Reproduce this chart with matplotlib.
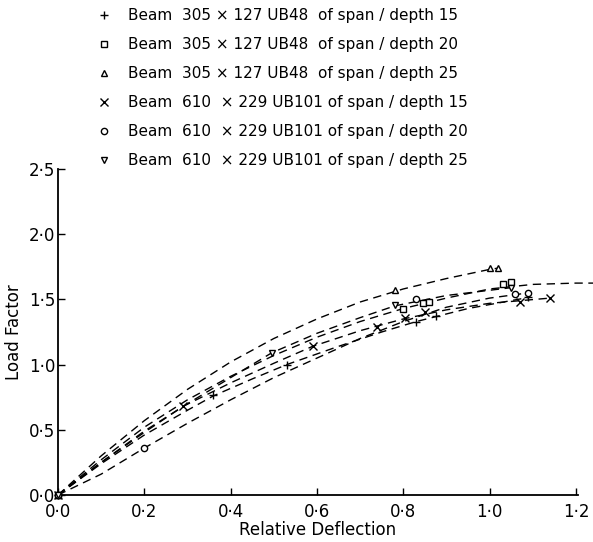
import matplotlib
matplotlib.use("Agg")
import matplotlib.pyplot as plt

plt.rcParams['font.family'] = ['DejaVu Sans']

# ---- data ----
labels = [
    "Beam  305 × 127 UB48  of span / depth 15",
    "Beam  305 × 127 UB48  of span / depth 20",
    "Beam  305 × 127 UB48  of span / depth 25",
    "Beam  610  × 229 UB101 of span / depth 15",
    "Beam  610  × 229 UB101 of span / depth 20",
    "Beam  610  × 229 UB101 of span / depth 25",
]
markers = ['+', 's', '^', 'x', 'o', 'v']

# measured points
pts_x = [
    [0.0, 0.36, 0.53, 0.83, 0.875, 1.09],
    [0.0, 0.80, 0.845, 0.86, 1.03, 1.05],
    [0.0, 0.78, 1.00, 1.02],
    [0.0, 0.29, 0.59, 0.74, 0.805, 0.85, 1.07, 1.14],
    [0.0, 0.20, 0.83, 1.06, 1.09],
    [0.0, 0.495, 0.78, 1.05],
]
pts_y = [
    [0.0, 0.77, 1.00, 1.33, 1.37, 1.515],
    [0.0, 1.43, 1.47, 1.48, 1.62, 1.63],
    [0.0, 1.57, 1.74, 1.74],
    [0.0, 0.68, 1.14, 1.285, 1.36, 1.40, 1.48, 1.51],
    [0.0, 0.36, 1.50, 1.545, 1.55],
    [0.0, 1.09, 1.46, 1.59],
]

# dashed fitted curves
crv_x = [
    [0.0, 0.1, 0.2, 0.3, 0.36, 0.45, 0.53, 0.65, 0.75, 0.83, 0.95, 1.09],
    [0.0, 0.1, 0.2, 0.3, 0.4, 0.5, 0.6, 0.7, 0.8, 0.9, 1.0, 1.1, 1.2, 1.24],
    [0.0, 0.1, 0.2, 0.3, 0.4, 0.5, 0.6, 0.7, 0.8, 0.9, 1.0, 1.02],
    [0.0, 0.1, 0.2, 0.29, 0.4, 0.5, 0.59, 0.7, 0.8, 0.9, 1.0, 1.14],
    [0.0, 0.1, 0.2, 0.3, 0.4, 0.5, 0.6, 0.7, 0.8, 0.9, 1.0, 1.09],
    [0.0, 0.1, 0.2, 0.3, 0.4, 0.495, 0.6, 0.7, 0.78, 0.9, 1.05],
]
crv_y = [
    [0.0, 0.24, 0.46, 0.65, 0.76, 0.89, 1.00, 1.14, 1.25, 1.33, 1.43, 1.515],
    [0.0, 0.27, 0.52, 0.73, 0.91, 1.07, 1.21, 1.33, 1.43, 1.51, 1.58, 1.615, 1.625, 1.625],
    [0.0, 0.30, 0.57, 0.81, 1.02, 1.20, 1.35, 1.48, 1.58, 1.66, 1.73, 1.74],
    [0.0, 0.25, 0.48, 0.68, 0.86, 1.01, 1.14, 1.26, 1.35, 1.42, 1.47, 1.51],
    [0.0, 0.16, 0.36, 0.55, 0.73, 0.90, 1.05, 1.20, 1.33, 1.44, 1.51, 1.55],
    [0.0, 0.25, 0.49, 0.70, 0.90, 1.09, 1.24, 1.36, 1.45, 1.53, 1.59],
]

xticks = [0.0, 0.2, 0.4, 0.6, 0.8, 1.0, 1.2]
xticklabels = ['0·0', '0·2', '0·4', '0·6', '0·8', '1·0', '1·2']
yticks = [0.0, 0.5, 1.0, 1.5, 2.0, 2.5]
yticklabels = ['0·0', '0·5', '1·0', '1·5', '2·0', '2·5']

# ---- figure ----
fig = plt.figure(figsize=(5.93, 5.42), dpi=100)
ax = fig.add_axes([0.0978, 0.0867, 0.877, 0.6015])

for cx, cy in zip(crv_x, crv_y):
    ax.plot(cx, cy, color='black', lw=1.0, ls=(0, (6, 4)), clip_on=False)

handles = []
for px, py, m, lab in zip(pts_x, pts_y, markers, labels):
    h, = ax.plot(px, py, ls='none', marker=m, ms=5.5 if m in '+x' else 4.5,
                 mfc='white', mec='black', mew=1.0, color='black',
                 label=lab, clip_on=False, zorder=3)
    handles.append(h)

ax.set_xlim(0, 1.205)
ax.set_ylim(0, 2.5)
ax.set_xticks(xticks)
ax.set_xticklabels(xticklabels)
ax.set_yticks(yticks)
ax.set_yticklabels(yticklabels)
ax.tick_params(direction='in', length=5, width=1.0, labelsize=12)
ax.tick_params(axis='x', pad=6)
ax.tick_params(axis='y', pad=2)
for s in ['top', 'right']:
    ax.spines[s].set_visible(False)
for s in ['left', 'bottom']:
    ax.spines[s].set_linewidth(1.3)

ax.set_xlabel('Relative Deflection', fontsize=12, labelpad=0)
ax.set_ylabel('Load Factor', fontsize=12, labelpad=4)

fig.legend(handles=handles, loc='upper left', bbox_to_anchor=(0.160, 0.988),
           frameon=False, fontsize=11, handlelength=1.0, handletextpad=1.1,
           labelspacing=0.92, borderaxespad=0.0, borderpad=0.1)

fig.savefig('out.png', dpi=100)
